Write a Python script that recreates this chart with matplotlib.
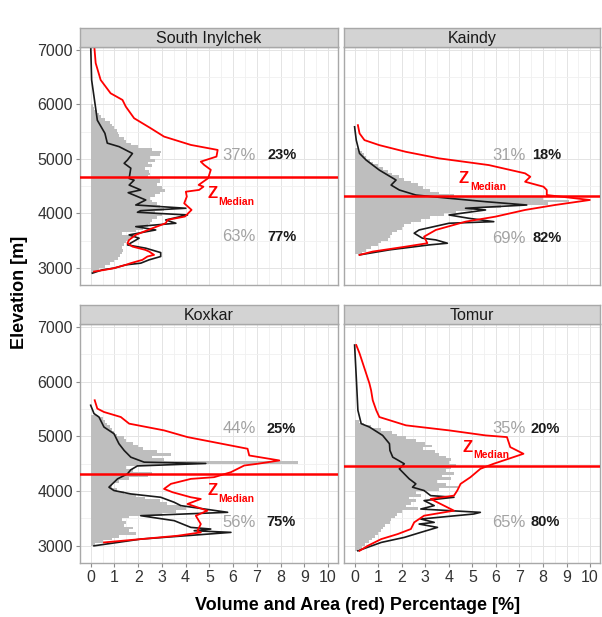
import numpy as np
import matplotlib.pyplot as plt

plt.rcParams['font.family'] = ['Liberation Sans', 'DejaVu Sans']

# =============================================================================
# DATA
# -----------------------------------------------------------------------------
names = ['South Inylchek', 'Kaindy', 'Koxkar', 'Tomur']

# grey bars: percentage per 50 m elevation band, starting at bar_start
bin_width = 50
inyl_bar_start = 2900
inyl_bar_pct = [0.2, 0.35, 0.6, 0.8, 1.0, 1.15, 1.25, 1.3, 1.35, 1.3, 1.4, 1.5,
                1.6, 1.75, 1.3, 1.9, 2.2, 2.4, 2.5, 2.6, 2.8, 3.0, 2.7, 3.1, 2.9,
                2.8, 2.6, 2.5, 2.7, 2.9, 3.15, 3.0, 2.8, 2.9, 2.9, 2.4, 2.5, 2.45,
                2.3, 2.6, 2.4, 2.7, 2.5, 2.9, 2.95, 2.6, 2.0, 1.7, 1.5, 1.4, 1.2,
                1.15, 1.1, 1.0, 0.9, 0.8, 0.6, 0.45, 0.35, 0.25, 0.15, 0.1]
kain_bar_start = 3250
kain_bar_pct = [0.3, 0.5, 0.7, 1.0, 1.1, 1.4, 1.5, 1.6, 1.8, 2.0, 2.1, 2.4, 2.8,
                3.2, 3.8, 4.3, 5.0, 6.2, 8.2, 9.1, 8.0, 4.2, 3.6, 3.2, 2.9, 2.7,
                2.4, 2.1, 1.9, 1.6, 1.4, 1.2, 1.0, 0.8, 0.65, 0.5, 0.4, 0.3, 0.2]
koxk_bar_start = 3000
koxk_bar_pct = [0.2, 0.5, 0.9, 1.2, 1.9, 1.6, 1.8, 1.4, 1.5, 1.3, 1.6, 3.0, 3.6,
                4.0, 3.8, 3.2, 2.9, 2.3, 1.9, 1.4, 1.1, 0.9, 0.9, 1.2, 1.6, 2.4,
                2.6, 1.8, 1.5, 2.9, 8.75, 3.1, 2.6, 3.4, 2.8, 2.2, 2.0, 1.8, 1.5,
                1.4, 1.1, 1.0, 0.9, 0.8, 0.7, 0.6, 0.5, 0.3]
tomu_bar_start = 2900
tomu_bar_pct = [0.15, 0.3, 0.45, 0.6, 0.75, 0.85, 1.0, 1.1, 1.2, 1.3, 1.5, 1.55,
                1.7, 1.8, 2.0, 2.7, 2.2, 2.4, 2.6, 2.3, 2.8, 2.6, 3.6, 4.4, 3.9,
                3.5, 4.1, 3.7, 4.2, 3.9, 4.1, 4.3, 4.0, 4.1, 3.9, 3.6, 3.4, 2.9,
                3.3, 3.0, 2.6, 2.2, 1.8, 1.6, 1.1, 0.7, 0.4, 0.2]

# red lines: area percentage
inyl_area_elev = [7130, 6760, 6450, 6205, 6083, 5960, 5747, 5563, 5410, 5257,
                  5165, 5043, 4950, 4890, 4800, 4646, 4523, 4490, 4431, 4398,
                  4308, 4185, 4064, 3942, 3881, 3819, 3727, 3606, 3513, 3453,
                  3390, 3330, 3300, 3238, 3208, 3147, 3086, 3055, 2994, 2963, 2932]
inyl_area_pct = [0.14, 0.21, 0.42, 0.84, 1.34, 1.48, 1.83, 2.53, 3.09, 4.22,
                 5.35, 5.3, 4.64, 4.78, 5.06, 4.95, 4.55, 4.75, 4.57, 4.01,
                 4.05, 3.94, 4.25, 3.97, 3.24, 3.16, 2.60, 1.90, 1.62, 1.55,
                 1.76, 2.3, 2.46, 2.67, 2.39, 2.18, 1.69, 1.48, 0.98, 0.6, 0.14]
kain_area_elev = [5620, 5468, 5345, 5253, 5130, 5010, 4887, 4735, 4673, 4581,
                  4490, 4429, 4337, 4246, 4154, 4063, 3940, 3848, 3696, 3573,
                  3452, 3390, 3299, 3238]
kain_area_pct = [0.14, 0.21, 0.42, 1.05, 2.18, 3.59, 5.70, 7.24, 7.46, 7.24,
                 8.02, 8.16, 8.16, 9.99, 8.51, 7.24, 5.98, 4.71, 3.45, 2.95,
                 3.09, 2.18, 0.77, 0.21]
koxk_area_elev = [5661, 5508, 5446, 5354, 5233, 5110, 4987, 4774, 4651, 4560,
                  4499, 4468, 4346, 4254, 4223, 4132, 4040, 3979, 3887, 3856,
                  3764, 3642, 3550, 3397, 3275, 3245, 3183, 3122, 3061]
koxk_area_pct = [0.17, 0.28, 0.56, 1.27, 1.62, 3.09, 4.08, 6.61, 6.68, 7.95,
                 7.03, 6.47, 5.91, 5.20, 4.22, 3.38, 3.09, 3.45, 4.22, 4.64,
                 4.08, 4.92, 4.43, 4.64, 4.50, 4.64, 3.66, 2.11, 0.56]
tomu_area_elev = [6670, 6518, 6151, 5967, 5844, 5661, 5477, 5354, 5202, 5110,
                  5018, 4987, 4804, 4682, 4591, 4499, 4407, 4254, 4132, 4010,
                  3917, 3856, 3642, 3550, 3428, 3306, 3214, 3122, 3000, 2908]
tomu_area_pct = [0.07, 0.21, 0.49, 0.63, 0.70, 0.77, 0.92, 1.05, 2.18, 4.01,
                 5.56, 6.47, 6.61, 7.17, 6.54, 5.9, 5.34, 4.92, 4.50, 4.36,
                 4.22, 3.23, 4.22, 2.95, 2.53, 2.39, 1.83, 1.13, 0.56, 0.21]

# black lines: volume percentage
inyl_vol_elev = [7090, 6450, 5960, 5710, 5470, 5290, 5225, 5100, 4980, 4920,
                 4830, 4640, 4610, 4520, 4430, 4380, 4246, 4154, 4094, 4050,
                 4020, 3971, 3879, 3819, 3757, 3696, 3605, 3544, 3421, 3361,
                 3280, 3208, 3147, 3086, 3055, 2994, 2963, 2902]
inyl_vol_pct = [0.00, 0.04, 0.20, 0.28, 0.60, 0.70, 1.20, 1.76, 1.55, 1.41,
                1.69, 1.62, 1.83, 1.62, 2.11, 1.58, 2.32, 1.90, 4.01, 2.10,
                1.97, 4.08, 3.16, 3.59, 1.90, 2.74, 1.62, 2.04, 1.55, 2.32,
                2.95, 2.95, 2.46, 2.11, 1.48, 0.98, 0.49, 0.07]
kain_vol_elev = [5590, 5345, 5101, 4979, 4795, 4612, 4520, 4429, 4337, 4277,
                 4215, 4154, 4094, 4063, 3971, 3910, 3848, 3819, 3696, 3636,
                 3544, 3513, 3452, 3421, 3330, 3238]
kain_vol_pct = [0.00, 0.07, 0.21, 0.49, 1.05, 1.76, 1.55, 1.90, 2.60, 4.01,
                5.56, 7.31, 4.71, 5.56, 4.01, 4.85, 5.91, 4.01, 2.74, 2.53,
                2.88, 3.45, 3.94, 3.16, 1.48, 0.21]
koxk_vol_elev = [5569, 5417, 5354, 5171, 5050, 4866, 4743, 4620, 4529, 4505,
                 4460, 4389, 4315, 4223, 4071, 4010, 3948, 3887, 3795, 3734,
                 3612, 3550, 3459, 3336, 3306, 3275, 3245, 3122, 2999]
koxk_vol_pct = [0.00, 0.14, 0.35, 0.56, 0.98, 1.19, 1.41, 1.69, 2.25, 4.85,
                1.97, 1.69, 1.55, 1.13, 0.77, 0.98, 1.69, 2.95, 3.52, 3.80,
                5.77, 2.11, 3.52, 4.22, 5.06, 4.36, 5.91, 2.11, 0.14]
tomu_vol_elev = [6670, 6089, 5477, 5233, 5171, 5018, 4866, 4743, 4620, 4499,
                 4407, 4315, 4223, 4132, 4071, 4010, 3917, 3887, 3826, 3734,
                 3672, 3611, 3581, 3489, 3428, 3397, 3336, 3245, 3153, 3061, 2908]
tomu_vol_pct = [0.00, 0.07, 0.14, 0.28, 0.63, 1.19, 1.48, 1.50, 1.62, 2.11,
                1.90, 2.11, 2.32, 2.60, 2.46, 2.95, 3.23, 4.22, 2.95, 3.38,
                2.81, 5.34, 5.06, 2.81, 3.38, 2.74, 3.52, 2.81, 2.11, 1.13, 0.14]

median_elev = [4667, 4326, 4315, 4455]
grey_above = ['37%', '31%', '44%', '35%']
black_above = ['23%', '18%', '25%', '20%']
grey_below = ['63%', '69%', '56%', '65%']
black_below = ['77%', '82%', '75%', '80%']

bar_start = [inyl_bar_start, kain_bar_start, koxk_bar_start, tomu_bar_start]
bar_pct = [inyl_bar_pct, kain_bar_pct, koxk_bar_pct, tomu_bar_pct]
area_elev = [inyl_area_elev, kain_area_elev, koxk_area_elev, tomu_area_elev]
area_pct = [inyl_area_pct, kain_area_pct, koxk_area_pct, tomu_area_pct]
vol_elev = [inyl_vol_elev, kain_vol_elev, koxk_vol_elev, tomu_vol_elev]
vol_pct = [inyl_vol_pct, kain_vol_pct, koxk_vol_pct, tomu_vol_pct]

# =============================================================================
# LAYOUT
# -----------------------------------------------------------------------------
W, H = 602, 617
fig = plt.figure(figsize=(W / 100, H / 100), dpi=100)

# panel boxes in pixels: left, top, right, bottom
boxes = [(80, 47, 338, 285), (344, 47, 600, 285),
         (80, 324, 338, 563), (344, 324, 600, 563)]
strip_h = 19

# text placement (x in %, y in m)
pct_y_top = [5070, 5070, 5141, 5141]
pct_y_bot = [3568, 3544, 3428, 3428]
grey_x = [6.24, 6.54, 6.26, 6.54]
black_x = [8.06, 8.16, 8.02, 8.09]
z_pos = [(5.13, 4368), (4.64, 4643), (5.13, 4009), (4.78, 4804)]

for i in range(4):
    l, t, r, b = boxes[i]
    ax = fig.add_axes([l / W, 1 - b / H, (r - l) / W, (b - t) / H])
    st = fig.add_axes([l / W, 1 - t / H, (r - l) / W, strip_h / H])

    # strip
    st.set_facecolor('#D3D3D3')
    st.set_xticks([])
    st.set_yticks([])
    for s in st.spines.values():
        s.set_color('#A8A8A8')
        s.set_linewidth(1.0)
    st.text(0.5, 0.47, names[i], ha='center', va='center', fontsize=11.5,
            color='#1A1A1A', transform=st.transAxes)

    # bars (as one filled step outline, no seams) + lines
    edges = bar_start[i] + bin_width * np.arange(len(bar_pct[i]) + 1)
    ax.stairs(bar_pct[i], edges, orientation='horizontal', fill=True,
              color='#BEBEBE', linewidth=0, zorder=2)
    ax.plot(vol_pct[i], vol_elev[i], color='#1A1A1A', lw=1.2, zorder=3)
    ax.plot(area_pct[i], area_elev[i], color='#FF0000', lw=1.3, zorder=4)
    ax.axhline(median_elev[i], color='#FF0000', lw=1.8, zorder=5)

    # labels
    ax.text(grey_x[i], pct_y_top[i], grey_above[i], ha='center', va='center',
            fontsize=12, color='#A3A3A3', zorder=6)
    ax.text(black_x[i], pct_y_top[i], black_above[i], ha='center', va='center',
            fontsize=10.5, fontweight='bold', color='#1A1A1A', zorder=6)
    ax.text(grey_x[i], pct_y_bot[i], grey_below[i], ha='center', va='center',
            fontsize=12, color='#A3A3A3', zorder=6)
    ax.text(black_x[i], pct_y_bot[i], black_below[i], ha='center', va='center',
            fontsize=10.5, fontweight='bold', color='#1A1A1A', zorder=6)
    zx, zy = z_pos[i]
    ax.text(zx, zy, 'Z', ha='center', va='center', fontsize=12,
            fontweight='bold', color='#FF0000', zorder=6)
    ax.annotate('Median', xy=(zx, zy), xytext=(4.3, -6), textcoords='offset points',
                ha='left', va='center', fontsize=7.5, fontweight='bold',
                color='#FF0000', zorder=6)

    # axes styling
    ax.set_xlim(-0.45, 10.42)
    ax.set_ylim(2685, 7055)
    ax.set_xticks(range(0, 11))
    ax.set_xticks(np.arange(0.5, 10.5, 1), minor=True)
    ax.set_yticks([3000, 4000, 5000, 6000, 7000])
    ax.set_yticks([3500, 4500, 5500, 6500], minor=True)
    ax.grid(True, which='major', color='#E4E4E4', lw=0.7)
    ax.grid(True, which='minor', color='#F0F0F0', lw=0.6)
    ax.set_axisbelow(True)
    for s in ax.spines.values():
        s.set_color('#A8A8A8')
        s.set_linewidth(1.0)
    ax.tick_params(which='minor', length=0)
    ax.tick_params(which='major', direction='out', length=3, color='#8C8C8C',
                   labelsize=11.5, labelcolor='#333333', pad=2)
    if i % 2 == 1:
        ax.tick_params(axis='y', left=False, labelleft=False)
    if i < 2:
        ax.tick_params(axis='x', bottom=False, labelbottom=False)

fig.text(358 / W, 1 - 605 / H, 'Volume and Area (red) Percentage [%]',
         ha='center', va='center', fontsize=13, fontweight='bold')
fig.text(20 / W, 1 - 292 / H, 'Elevation [m]', rotation=90,
         ha='center', va='center', fontsize=13, fontweight='bold')

plt.savefig('out.png', dpi=100)
